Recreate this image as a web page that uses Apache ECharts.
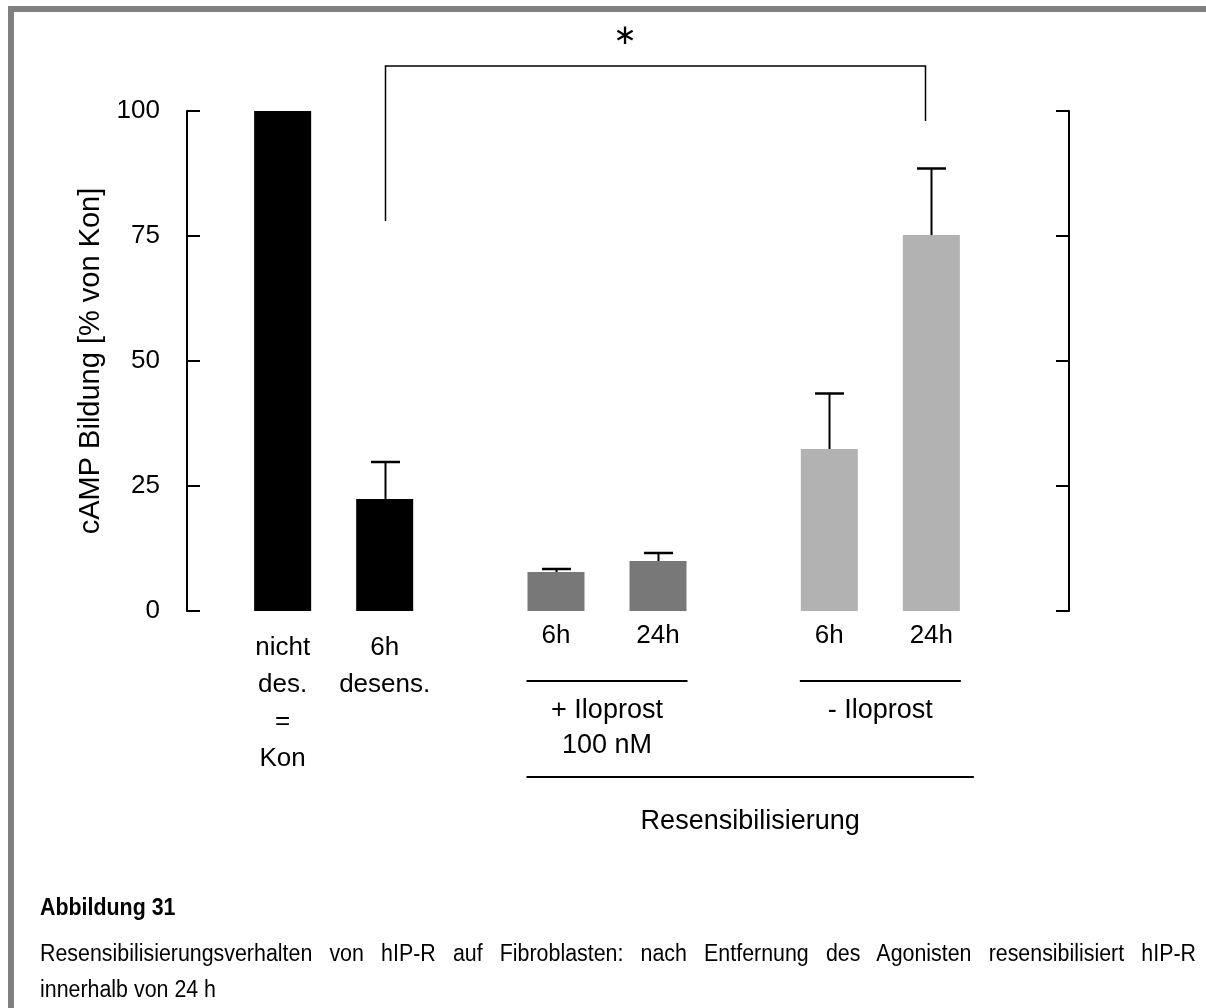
<!DOCTYPE html>
<html>
<head>
<meta charset="utf-8">
<script src="https://cdn.jsdelivr.net/npm/echarts@6/dist/echarts.min.js"></script>
<style>
  html, body { margin: 0; padding: 0; background: #fff; }
  #page { position: relative; width: 1206px; height: 1008px; overflow: hidden; }
  #frame { position: absolute; left: 8px; top: 6px; right: 0; bottom: 0;
           border-top: 6px solid #808080; border-left: 6px solid #808080; }
  #chart { position: absolute; left: 0; top: 0; width: 1206px; height: 1008px; }
  .cap { position: absolute; left: 40px; line-height: 26px; color: #000; white-space: nowrap;
         font-family: "Liberation Sans", Arial, sans-serif; font-size: 23px;
         transform: scaleX(0.93); transform-origin: 0 0; }
  .just { width: 1243px; text-align: justify; text-align-last: justify; white-space: normal; }
</style>
</head>
<body>
<div id="page">
  <div id="frame"></div>
  <div id="chart"></div>
  <div class="cap" style="top:894px; font-weight:bold;">Abbildung 31</div>
  <div class="cap just" style="top:940px;">Resensibilisierungsverhalten von hIP-R auf Fibroblasten: nach Entfernung des Agonisten resensibilisiert hIP-R</div>
  <div class="cap" style="top:976px;">innerhalb von 24 h</div>
</div>
<script>
// Gruppen auf der x-Achse (jeweils zwei Balken)
const groupNames = ['', '+ Iloprost\n100 nM', '- Iloprost']
const firstLabels = ['nicht\ndes.\n=\nKon', '6h', '6h']
const secondLabels = ['6h\ndesens.', '24h', '24h']

// cAMP Bildung [% von Kon], Mittelwert + Fehler (SEM)
const firstValues = [100, 7.8, 32.4]
const firstErrors = [0, 0.6, 11.1]
const secondValues = [22.4, 10.0, 75.2]
const secondErrors = [7.4, 1.6, 13.3]

const yMin = 0, yMax = 100, yStep = 25

const FONT = '"Liberation Sans", Arial, sans-serif'
const groupColors = ['#000000', '#787878', '#b2b2b2']
const BAR_W = 57
const GAP = 0.79
const BAR_SHIFT = BAR_W * (1 + GAP) / 2
const CAP = 14.5

function barData(values, labels) {
  return values.map((v, i) => ({
    value: v,
    itemStyle: { color: groupColors[i] },
    label: { formatter: labels[i], offset: [0, i === 0 ? 18 : 6] }
  }))
}

function errData(values, errors, side) {
  return values.map((v, i) => [i, v, errors[i], side])
}

function renderErr(params, api) {
  const err = api.value(2)
  if (!err) return null
  const side = api.value(3)
  const base = api.coord([api.value(0), api.value(1)])
  const tip = api.coord([api.value(0), api.value(1) + err])
  const x = Math.round(base[0] + side * BAR_SHIFT) + 0.5
  return {
    type: 'group',
    children: [
      { type: 'line', shape: { x1: x, y1: base[1], x2: x, y2: tip[1] },
        style: { stroke: '#000', lineWidth: 2 } },
      { type: 'line', shape: { x1: x - CAP, y1: tip[1], x2: x + CAP, y2: tip[1] },
        style: { stroke: '#000', lineWidth: 2.5 } }
    ]
  }
}

const barLabel = {
  show: true,
  position: ['50%', '100%'],
  align: 'center',
  verticalAlign: 'top',
  fontFamily: FONT,
  fontSize: 26,
  lineHeight: 37,
  color: '#000'
}

const yAxisBase = {
  type: 'value',
  min: yMin,
  max: yMax,
  interval: yStep,
  splitLine: { show: false },
  axisLine: { show: true, lineStyle: { color: '#000', width: 2 } },
  axisTick: { show: true, inside: true, length: 13, lineStyle: { color: '#000', width: 2 } }
}

const option = {
  animation: false,
  backgroundColor: 'transparent',
  grid: { left: 197, right: 189, top: 111, bottom: 397, outerBoundsMode: 'none' },
  xAxis: {
    type: 'category',
    data: groupNames,
    axisLine: { show: false },
    axisTick: { show: false },
    axisLabel: { margin: 82, fontFamily: FONT, fontSize: 27, lineHeight: 35, color: '#000' }
  },
  yAxis: [
    Object.assign({}, yAxisBase, {
      position: 'left',
      offset: 10,
      name: 'cAMP Bildung [% von Kon]',
      nameLocation: 'middle',
      nameRotate: 90,
      nameGap: 76,
      nameTextStyle: { fontFamily: FONT, fontSize: 29, color: '#000' },
      axisLabel: { margin: 27, fontFamily: FONT, fontSize: 26, color: '#000' }
    }),
    Object.assign({}, yAxisBase, {
      position: 'right',
      offset: 52,
      axisLabel: { show: false }
    })
  ],
  series: [
    { type: 'bar', barWidth: BAR_W, barGap: (GAP * 100) + '%',
      data: barData(firstValues, firstLabels), label: barLabel },
    { type: 'bar', barWidth: BAR_W, barGap: (GAP * 100) + '%',
      data: barData(secondValues, secondLabels), label: barLabel },
    { type: 'custom', renderItem: renderErr, data: errData(firstValues, firstErrors, -1), z: 5 },
    { type: 'custom', renderItem: renderErr, data: errData(secondValues, secondErrors, 1), z: 5 }
  ]
}

const chart = echarts.init(document.getElementById('chart'))
chart.setOption(option)

// Anmerkungen: Signifikanzklammer, Gruppenlinien, Beschriftung
function px(cat, val) {
  return chart.convertToPixel({ xAxisIndex: 0, yAxisIndex: 0 }, [cat, val])
}
const base0 = px(0, 0)[1]
const leftLeg = px(0, 78)
const bracketY = px(0, 109)[1]
const rightLeg = px(2, 98)
const xl = Math.round(leftLeg[0] + BAR_SHIFT) + 0.5
const xr = Math.round(rightLeg[0] + BAR_SHIFT) - 5.5
const half = BAR_SHIFT + BAR_W / 2 + 1
const c1 = px(1, 0)[0], c2 = px(2, 0)[0]
const lineStyle = { stroke: '#000', lineWidth: 2 }

chart.setOption({
  graphic: [
    { type: 'polyline', shape: { points: [[xl, leftLeg[1]], [xl, bracketY], [xr, bracketY], [xr, rightLeg[1]]] },
      style: { stroke: '#000', lineWidth: 1.5, fill: null } },
    { type: 'text', x: c1 + 18, y: bracketY - 29,
      style: { text: '\u2217', font: '28px "DejaVu Sans"', fill: '#000', align: 'center', verticalAlign: 'middle' } },
    { type: 'line', shape: { x1: c1 - half, y1: base0 + 70, x2: c1 + half, y2: base0 + 70 }, style: lineStyle },
    { type: 'line', shape: { x1: c2 - half, y1: base0 + 70, x2: c2 + half, y2: base0 + 70 }, style: lineStyle },
    { type: 'line', shape: { x1: c1 - half, y1: base0 + 166, x2: c2 + half + 13, y2: base0 + 166 }, style: lineStyle },
    { type: 'text', x: (c1 - half + c2 + half + 13) / 2, y: base0 + 211,
      style: { text: 'Resensibilisierung', font: '27px ' + FONT, fill: '#000', align: 'center', verticalAlign: 'middle' } }
  ]
})
</script>
</body>
</html>
